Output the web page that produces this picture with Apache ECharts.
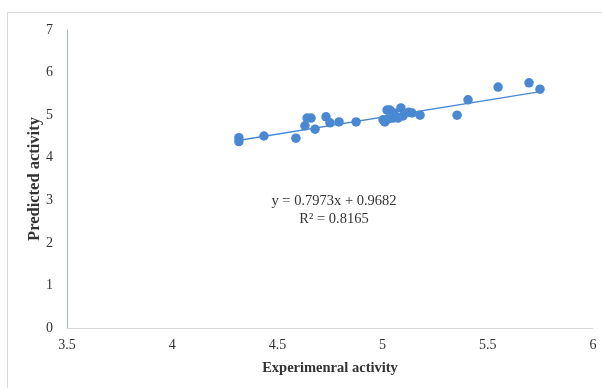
<!DOCTYPE html>
<html><head><meta charset="utf-8">
<script src="https://cdn.jsdelivr.net/npm/echarts@6/dist/echarts.min.js"></script>
<style>html,body{margin:0;padding:0;background:#fff}#c{width:602px;height:388px}</style>
</head><body><div id="c"></div>
<script>
const expX = [4.317,4.317,4.436,4.588,4.631,4.641,4.660,4.679,4.731,4.750,4.793,4.874,5.002,5.011,5.021,5.035,5.026,5.049,5.054,5.073,5.087,5.097,5.125,5.140,5.178,5.354,5.406,5.549,5.696,5.748];
const predY = [4.47,4.38,4.51,4.46,4.75,4.93,4.93,4.67,4.96,4.82,4.84,4.84,4.89,4.84,5.12,5.12,4.91,4.93,5.05,4.93,5.17,4.98,5.07,5.05,5.00,5.00,5.36,5.66,5.76,5.61];
const trendX = [4.32, 5.75];
const trendY = [4.41, 5.55];
const xTicks = [3.5,4,4.5,5,5.5,6];
const yTicks = [0,1,2,3,4,5,6,7];
const eqText = ['y = 0.7973x + 0.9682', 'R\u00B2 = 0.8165'];

const font = '"Liberation Serif","Times New Roman",serif';
const chart = echarts.init(document.getElementById('c'), null, {renderer:'canvas'});
chart.setOption({
  animation:false,
  backgroundColor:'#fff',
  grid:{left:67,right:9,top:30,bottom:60},
  graphic:[
    {type:'rect',shape:{x:7.5,y:12.5,width:700,height:500},style:{fill:'none',stroke:'#d9d9d9',lineWidth:1},z:-10},
    {type:'text',x:334,y:192,style:{text:eqText.join('\n'),font:'14.5px '+font,fill:'#333',textAlign:'center',lineHeight:18}}
  ],
  xAxis:{type:'value',min:xTicks[0],max:xTicks[xTicks.length-1],interval:0.5,
    name:'Experimenral activity',nameLocation:'middle',nameGap:33,nameMoveOverlap:false,
    nameTextStyle:{fontFamily:font,fontWeight:'bold',fontSize:14.5,color:'#333'},
    axisLine:{lineStyle:{color:'#d9d9d9',width:1}},axisTick:{show:false},splitLine:{show:false},
    axisLabel:{fontFamily:font,fontSize:14,color:'#333',margin:10}},
  yAxis:{type:'value',min:yTicks[0],max:yTicks[yTicks.length-1],interval:1,
    name:'Predicted activity',nameLocation:'middle',nameGap:24,nameMoveOverlap:false,
    nameTextStyle:{fontFamily:font,fontWeight:'bold',fontSize:16.5,color:'#333'},
    axisLine:{show:true,lineStyle:{color:'#a6b4c8',width:1}},axisTick:{show:false},splitLine:{show:false},
    axisLabel:{fontFamily:font,fontSize:14,color:'#333',margin:14}},
  series:[
    {type:'line',data:trendX.map((x,i)=>[x,trendY[i]]),symbol:'none',
      lineStyle:{color:'#4a89d2',width:1.3},z:1},
    {type:'scatter',data:expX.map((x,i)=>[x,predY[i]]),symbolSize:9.5,
      itemStyle:{color:'#4a89d2',opacity:1},z:2}
  ]
});
</script></body></html>
